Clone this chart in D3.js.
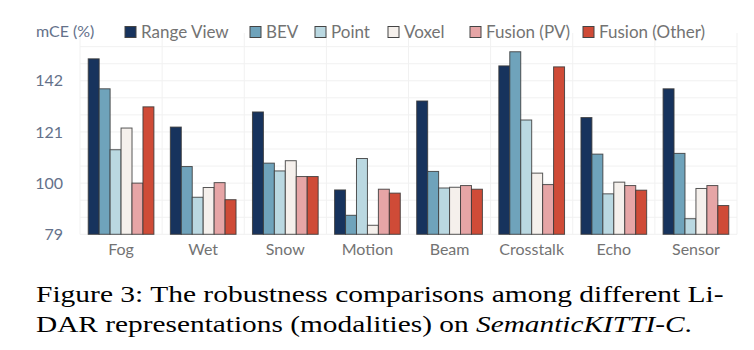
<!DOCTYPE html>
<html>
<head>
<meta charset="UTF-8">
<script src="https://d3js.org/d3.v7.min.js"></script>
<style>
  body { margin: 0; background: #fff; }
  .cat { font-family: Lato, sans-serif; font-size: 16px; fill: #737373; }
  .tick-lab { font-family: Lato, sans-serif; font-size: 16px; fill: #64718a; }
  .legend { font-family: Lato, sans-serif; font-size: 17px; fill: #737373; }
  .caption { font-family: "Liberation Serif", "Times New Roman", serif; font-size: 23px; fill: #000; }
</style>
</head>
<body>
<svg width="754" height="350"></svg>
<script>
// categories (corruption types)
const categories = ["Fog", "Wet", "Snow", "Motion", "Beam", "Crosstalk", "Echo", "Sensor"];
const seriesNames = ["Range View", "BEV", "Point", "Voxel", "Fusion (PV)", "Fusion (Other)"];
const colors = ["#17335d", "#6fa3bb", "#bad8e1", "#f5f0ec", "#e6a5a6", "#cf4b37"];

// mCE values per series, in category order
const rangeView = [151.0, 123.0, 129.2, 97.2, 133.7, 148.1, 126.9, 138.7];
const bev       = [138.7, 106.8, 108.2, 86.8, 104.8, 153.9, 111.9, 112.2];
const point     = [113.7, 94.2, 105.0, 110.1, 98.0, 125.9, 95.6, 85.4];
const voxel     = [122.6, 98.2, 109.2, 82.7, 98.3, 104.1, 100.4, 97.8];
const fusionPV  = [100.0, 100.2, 102.7, 97.5, 99.0, 99.4, 99.0, 99.0];
const fusionOth = [131.3, 93.2, 102.7, 95.9, 97.5, 147.7, 97.1, 90.8];
const seriesValues = [rangeView, bev, point, voxel, fusionPV, fusionOth];

const yTicks = [79, 100, 121, 142];
const yGrid = [79, 86, 93, 100, 107, 114, 121, 128, 135, 142, 149, 156];

const svg = d3.select("svg");
const plot = { left: 80, right: 737, top: 33, bottom: 234.3 };

const x = d3.scaleBand()
  .domain(categories)
  .range([plot.left, plot.right])
  .paddingInner(0.2)
  .paddingOuter(0.1);

const xInner = d3.scaleBand()
  .domain(seriesNames)
  .range([0, x.bandwidth()]);

const y = d3.scaleLinear()
  .domain([79, 161.6])
  .range([plot.bottom, plot.top]);

// grid
const grid = svg.append("g");
grid.selectAll("line.h")
  .data(yGrid)
  .join("line")
  .attr("x1", plot.left).attr("x2", plot.right)
  .attr("y1", d => y(d)).attr("y2", d => y(d))
  .attr("stroke", "#f1f1f1").attr("stroke-width", 1);
grid.selectAll("line.v")
  .data(d3.range(categories.length + 1))
  .join("line")
  .attr("x1", i => plot.left + i * x.step()).attr("x2", i => plot.left + i * x.step())
  .attr("y1", plot.top).attr("y2", plot.bottom)
  .attr("stroke", "#f1f1f1").attr("stroke-width", 1);

// bars
const rows = [];
categories.forEach((c, ci) => {
  seriesNames.forEach((s, si) => {
    rows.push({ cat: c, series: s, si: si, value: seriesValues[si][ci] });
  });
});

svg.append("g")
  .selectAll("rect")
  .data(rows)
  .join("rect")
  .attr("x", d => x(d.cat) + xInner(d.series))
  .attr("y", d => y(d.value))
  .attr("width", xInner.bandwidth())
  .attr("height", d => y(79) - y(d.value))
  .attr("fill", d => colors[d.si])
  .attr("stroke", "#3a3a3a")
  .attr("stroke-opacity", 0.85)
  .attr("stroke-width", 1);

// y axis labels
const yAxis = d3.axisLeft(y).tickValues(yTicks).tickSize(0).tickPadding(0);
const ya = svg.append("g")
  .attr("transform", `translate(63,0)`)
  .call(yAxis);
ya.select(".domain").remove();
ya.selectAll("text").attr("class", "tick-lab").attr("fill", null).attr("font-size", null).attr("font-family", null);

// x axis labels
const xAxis = d3.axisBottom(x).tickSize(0).tickPadding(0);
const xa = svg.append("g")
  .attr("transform", `translate(0,244)`)
  .call(xAxis);
xa.select(".domain").remove();
xa.selectAll("text").attr("class", "cat").attr("fill", null).attr("font-size", null).attr("font-family", null);

// y title
svg.append("text")
  .attr("class", "tick-lab")
  .attr("x", 36).attr("y", 37)
  .text("mCE (%)");

// legend
const legendX = [125, 250, 315, 388, 470, 583];
const lg = svg.append("g");
seriesNames.forEach((s, i) => {
  lg.append("rect")
    .attr("x", legendX[i]).attr("y", 26.5)
    .attr("width", 11).attr("height", 11)
    .attr("fill", colors[i])
    .attr("stroke", "#444").attr("stroke-width", 1);
  lg.append("text")
    .attr("class", "legend")
    .attr("x", legendX[i] + 16).attr("y", 37.5)
    .text(s);
});

// caption (the original glyphs are wider than Times, so stretch horizontally)
function stretch(sel, left, width) {
  const w = sel.node().getComputedTextLength();
  sel.attr("transform", `translate(${left},0) scale(${width / w},1)`);
}
const cap1 = svg.append("text")
  .attr("class", "caption")
  .attr("x", 0).attr("y", 302)
  .text("Figure 3: The robustness comparisons among different Li-");
stretch(cap1, 36, 688);
const cap2 = svg.append("text")
  .attr("class", "caption")
  .attr("x", 0).attr("y", 332);
cap2.append("tspan").text("DAR representations (modalities) on ");
cap2.append("tspan").attr("font-style", "italic").text("SemanticKITTI-C");
cap2.append("tspan").text(".");
stretch(cap2, 36, 656);
</script>
</body>
</html>
